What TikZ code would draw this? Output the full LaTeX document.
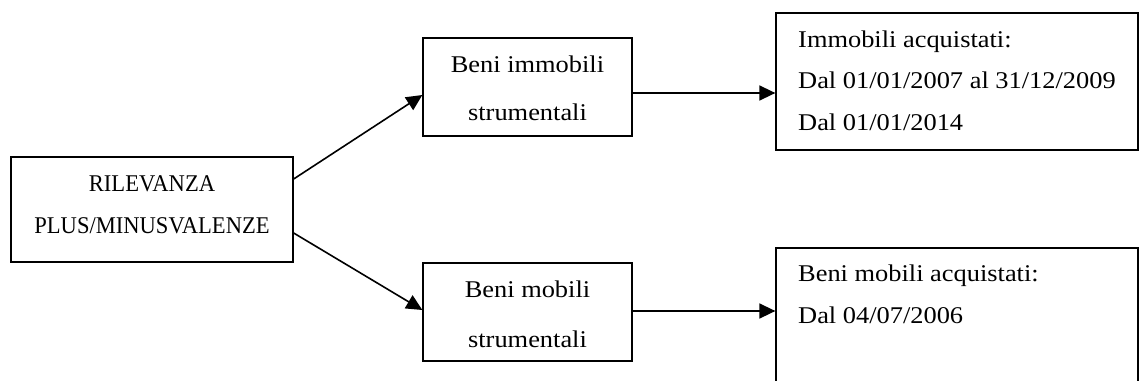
\documentclass[tikz,border=0pt]{standalone}
\usepackage{fontspec}
\setmainfont[FakeStretch=1.1]{Liberation Serif}
\newfontfamily\capsfont[FakeStretch=0.94]{Liberation Serif}
\usetikzlibrary{arrows.meta,calc}
\tikzset{
  box/.style={draw=black, line width=1.3pt, inner sep=0pt, rectangle},
  arr/.style={line width=1.6pt, -{Triangle[length=16pt,width=15pt]}},
  txt/.style={inner sep=0pt, anchor=north, align=center},
  ltxt/.style={inner sep=0pt, anchor=north west, align=left},
}
\begin{document}
\begin{tikzpicture}[x=1pt,y=-1pt]
\useasboundingbox (0,0) rectangle (1139,380);
\clip (0,0) rectangle (1139,380);
% boxes
\node[box, minimum width=282pt, minimum height=105pt] (root) at (152,209.5) {};
\node[box, minimum width=209pt, minimum height=98pt] (immo) at (527.5,87) {};
\node[box, minimum width=209pt, minimum height=98pt] (mob) at (527.5,312) {};
\node[box, minimum width=362pt, minimum height=137pt] (immoR) at (957,81.5) {};
\node[box, minimum width=362pt, minimum height=172pt] (mobR) at (957,334) {};
% texts
\node[txt, font=\capsfont\fontsize{24}{42}\selectfont] (rootT) at (152,175) {RILEVANZA\\PLUS/MINUSVALENZE};
\node[txt, font=\fontsize{24}{48}\selectfont] (immoT) at (527.5,55.5) {Beni immobili\\strumentali};
\node[txt, font=\fontsize{24}{50}\selectfont] (mobT) at (527.5,280.5) {Beni mobili\\strumentali};
\node[ltxt, font=\fontsize{24}{41.5}\selectfont] (immoRT) at (798,30.5) {Immobili acquistati:\\Dal 01/01/2007 al 31/12/2009\\Dal 01/01/2014};
\node[ltxt, font=\fontsize{24}{42}\selectfont] (mobRT) at (798,264.5) {Beni mobili acquistati:\\Dal 04/07/2006};
% connectors
\draw[arr] ([yshift=30.5pt]root.east) -- ([yshift=-8pt]immo.west);
\draw[arr] ([yshift=-23.5pt]root.east) -- ([yshift=2pt]mob.west);
\draw[arr] ([yshift=-6pt]immo.east) -- ([yshift=-6pt]immo.east -| immoR.west);
\draw[arr] ([yshift=1pt]mob.east) -- ([yshift=1pt]mob.east -| mobR.west);
\end{tikzpicture}
\end{document}
